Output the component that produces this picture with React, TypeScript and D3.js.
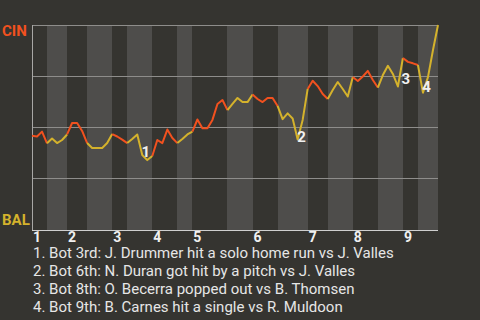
import React from 'react';
import * as d3 from 'd3';

const teams = ['CIN', 'BAL'];
const innings = ['1', '2', '3', '4', '5', '6', '7', '8', '9'];
// plate appearances per half-inning (top 1st, bottom 1st, ...)
const halfInningPlays = [3, 4, 4, 5, 3, 5, 5, 3, 7, 5, 5, 6, 4, 5, 5, 5, 3, 4];
// CIN win probability after each play
const winProb = [
  0.46, 0.456, 0.48, 0.423,
  0.446, 0.424, 0.439, 0.466,
  0.522, 0.522, 0.483, 0.424,
  0.4, 0.4, 0.4, 0.424, 0.468,
  0.456, 0.441, 0.424,
  0.444, 0.466, 0.366, 0.341, 0.361,
  0.439, 0.424, 0.49, 0.449, 0.424,
  0.444, 0.466, 0.48,
  0.539, 0.496, 0.496, 0.537, 0.615, 0.634, 0.585,
  0.615, 0.644, 0.624, 0.624, 0.661,
  0.639, 0.624, 0.644, 0.644, 0.605,
  0.541, 0.569, 0.544, 0.441, 0.537, 0.688,
  0.728, 0.702, 0.663, 0.639,
  0.683, 0.722, 0.688, 0.651, 0.746,
  0.727, 0.749, 0.776, 0.732, 0.695,
  0.756, 0.801, 0.761, 0.7, 0.839,
  0.82, 0.813, 0.805,
  0.67, 0.746, 0.878, 1.0,
];
const annotationLabels = ['1', '2', '3', '4'];
const annotationIndex = [22, 53, 73, 78];
const annotationTexts = [
  '1. Bot 3rd: J. Drummer hit a solo home run vs J. Valles',
  '2. Bot 6th: N. Duran got hit by a pitch vs J. Valles',
  '3. Bot 8th: O. Becerra popped out vs B. Thomsen',
  '4. Bot 9th: B. Carnes hit a single vs R. Muldoon',
];

const W = 480;
const H = 320;
const LEFT = 32;
const RIGHT = 438;
const TOP = 25;
const BOTTOM = 230;
const BG = '#353430';
const BAND = '#4e4d4b';
const RED = '#f2511f';
const YELLOW = '#d4b22c';
const FONT = 'Roboto, sans-serif';

// label placement tweaks (dx, dy) relative to the annotated point
const labelOffsets: Record<string, [number, number]> = {
  '1': [3.5, 2],
  '2': [4, 2.2],
  '3': [8, -2.5],
  '4': [3.5, -1],
};

export default function App() {
  const total = d3.sum(halfInningPlays);
  const x = d3.scaleLinear().domain([0, total]).range([LEFT, RIGHT]);
  const y = d3.scaleLinear().domain([0, 1]).range([BOTTOM, TOP]);
  const starts = [0, ...d3.cumsum(halfInningPlays)];

  const segs = halfInningPlays.map((_, h) => {
    const s = starts[h];
    const e = starts[h + 1];
    const pts: [number, number][] = [];
    for (let i = s; i <= e; i++) pts.push([x(i), y(winProb[i])]);
    return { h, d: d3.line()(pts) as string };
  });

  return (
    <svg
      width={W}
      height={H}
      style={{ position: 'fixed', left: 0, top: 0, display: 'block' }}
    >
      <rect x={0} y={0} width={W} height={H} fill={BG} />
      {halfInningPlays.map((_, h) =>
        h % 2 === 1 ? (
          <rect
            key={'b' + h}
            x={x(starts[h])}
            y={TOP}
            width={x(starts[h + 1]) - x(starts[h])}
            height={BOTTOM - TOP}
            fill={BAND}
            shapeRendering="crispEdges"
          />
        ) : null
      )}
      {[0.25, 0.5, 0.75, 1].map((v) => (
        <line
          key={'g' + v}
          x1={LEFT}
          x2={RIGHT}
          y1={Math.floor(y(v)) + 0.5}
          y2={Math.floor(y(v)) + 0.5}
          stroke="#8e8d8b"
          strokeWidth={1}
          shapeRendering="crispEdges"
        />
      ))}
      <line x1={LEFT + 0.5} x2={LEFT + 0.5} y1={TOP} y2={BOTTOM} stroke="#a8a7a5" shapeRendering="crispEdges" />
      <line x1={LEFT} x2={RIGHT} y1={BOTTOM + 0.5} y2={BOTTOM + 0.5} stroke="#cfcfcf" shapeRendering="crispEdges" />
      {segs.map((s) => (
        <path
          key={'s' + s.h}
          d={s.d}
          fill="none"
          stroke={s.h % 2 === 0 ? RED : YELLOW}
          strokeWidth={2}
          strokeLinejoin="round"
        />
      ))}
      {annotationLabels.map((lab, k) => {
        const i = annotationIndex[k];
        const [dx, dy] = labelOffsets[lab];
        return (
          <text
            key={'a' + lab}
            x={x(i) + dx}
            y={y(winProb[i]) + dy}
            textAnchor="middle"
            fontFamily={FONT}
            fontWeight="bold"
            fontSize={15}
            fill="#f0f0f0"
          >
            {lab}
          </text>
        );
      })}
      <text x={2} y={36} fontFamily={FONT} fontWeight="bold" fontSize={15} fill={RED}>
        {teams[0]}
      </text>
      <text x={2} y={225} fontFamily={FONT} fontWeight="bold" fontSize={15} fill={YELLOW}>
        {teams[1]}
      </text>
      {innings.map((lab, k) => (
        <text
          key={'i' + lab}
          x={x(starts[k * 2]) + 5}
          y={242}
          textAnchor="middle"
          fontFamily={FONT}
          fontWeight="bold"
          fontSize={14}
          fill="#f0f0f0"
        >
          {lab}
        </text>
      ))}
      {annotationTexts.map((t, k) => (
        <text
          key={'t' + k}
          x={33}
          y={257.5 + k * 18}
          fontFamily={FONT}
          fontSize={15}
          fill="#e6e6e6"
        >
          {t}
        </text>
      ))}
    </svg>
  );
}
